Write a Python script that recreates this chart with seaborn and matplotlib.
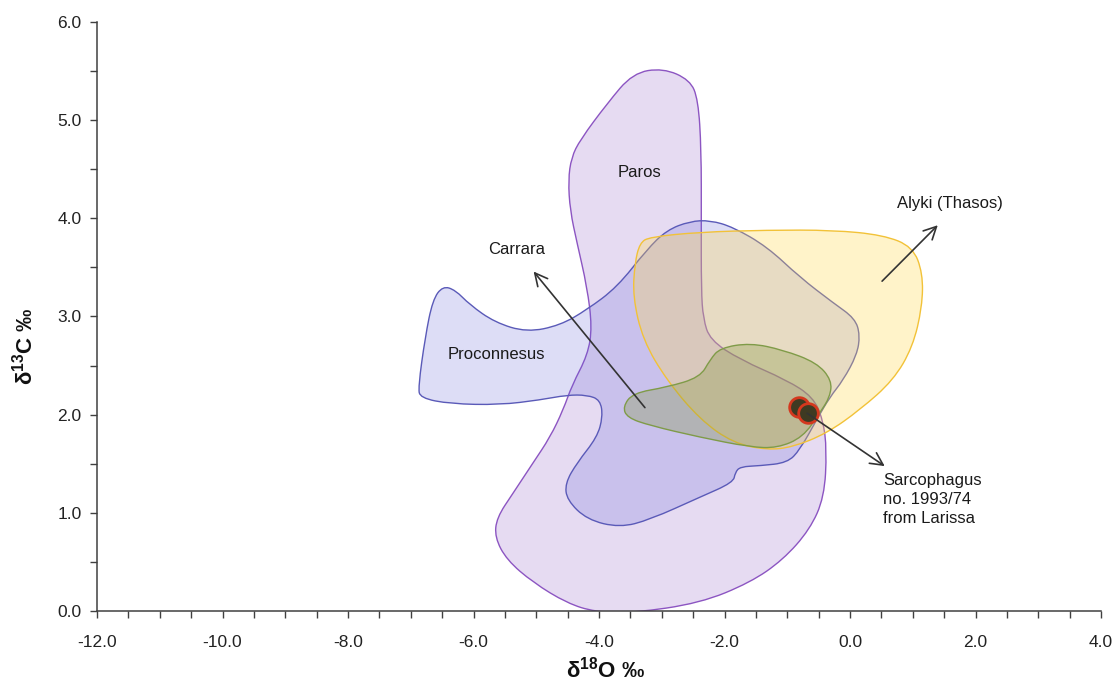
import numpy as np
import pandas as pd
import matplotlib
matplotlib.use("Agg")
import matplotlib.pyplot as plt
from matplotlib.path import Path
from matplotlib.patches import PathPatch
from matplotlib.ticker import MultipleLocator, FormatStrFormatter
import seaborn as sns

# ---------------- data (outline vertices in d18O / d13C units) ----------------
paros_x = [-2.98, -2.55, -2.42, -2.37, -2.37, -2.37, -2.34, -2.23, -1.75, -1.00,
           -0.59, -0.43, -0.37, -0.41, -0.64, -1.07, -1.59, -2.39, -3.46, -4.06,
           -4.51, -5.05, -5.47, -5.66, -5.63, -5.37, -5.05, -4.78, -4.57, -4.43,
           -4.18, -4.11, -4.19, -4.35, -4.46, -4.49, -4.44, -4.30, -3.87, -3.46]
paros_y = [5.53, 5.41, 5.21, 4.70, 3.98, 3.27, 2.98, 2.76, 2.56, 2.35,
           2.18, 1.95, 1.64, 1.16, 0.83, 0.52, 0.29, 0.08, -0.02, -0.01,
           0.08, 0.29, 0.52, 0.75, 0.95, 1.20, 1.51, 1.77, 2.05, 2.30,
           2.61, 2.89, 3.30, 3.75, 4.08, 4.39, 4.62, 4.80, 5.17, 5.48]

procon_x = [-6.88, -6.77, -6.65, -6.49, -6.29, -6.06, -5.66, -5.15, -4.62, -4.19,
            -3.71, -3.24, -2.92, -2.55, -2.23, -1.86, -1.32, -0.80, -0.27, 0.08,
            0.16, 0.11, -0.11, -0.32, -0.53, -0.80, -1.00, -1.43, -1.75, -1.83,
            -1.86, -2.39, -3.19, -3.67, -4.19, -4.51, -4.54, -4.35, -4.03, -3.94,
            -3.98, -4.19, -4.51, -4.94, -5.58, -6.37, -6.85]
procon_y = [2.28, 2.79, 3.17, 3.31, 3.27, 3.12, 2.94, 2.84, 2.91, 3.07,
            3.30, 3.68, 3.88, 3.97, 3.98, 3.91, 3.71, 3.40, 3.14, 2.98,
            2.81, 2.61, 2.35, 2.18, 1.95, 1.64, 1.51, 1.48, 1.47, 1.41,
            1.31, 1.16, 0.93, 0.85, 0.93, 1.13, 1.30, 1.51, 1.77, 1.98,
            2.15, 2.20, 2.20, 2.15, 2.10, 2.11, 2.17]

alyki_x = [-3.35, -3.19, -2.39, -1.32, -0.27, 0.53, 1.00, 1.16, 1.15, 1.00,
           0.69, 0.16, -0.37, -0.91, -1.32, -1.86, -2.39, -2.92, -3.30, -3.46, -3.43]
alyki_y = [3.75, 3.81, 3.86, 3.88, 3.88, 3.83, 3.71, 3.44, 3.10, 2.69,
           2.35, 2.05, 1.81, 1.67, 1.64, 1.71, 1.95, 2.35, 2.76, 3.20, 3.54]

carrara_x = [-3.62, -3.46, -2.92, -2.39, -2.23, -2.07, -1.59, -1.07, -0.53, -0.29,
             -0.32, -0.48, -0.75, -1.16, -1.59, -2.39, -3.19, -3.55]
carrara_y = [2.08, 2.22, 2.28, 2.38, 2.56, 2.68, 2.73, 2.66, 2.53, 2.35,
             2.18, 2.02, 1.77, 1.66, 1.67, 1.77, 1.89, 1.97]

sample_d18O = [-0.81, -0.67]
sample_d13C = [2.08, 2.02]

x_ticks_major = 2.0
y_ticks_major = 1.0

# ---------------- style ----------------
sns.set_theme(style="ticks")
plt.rcParams["font.family"] = ["Liberation Sans", "DejaVu Sans"]
plt.rcParams["axes.unicode_minus"] = False
plt.rcParams["mathtext.fontset"] = "custom"
plt.rcParams["mathtext.rm"] = "Liberation Sans"
plt.rcParams["mathtext.bf"] = "Liberation Sans:bold"
plt.rcParams["mathtext.it"] = "Liberation Sans:italic"

fig = plt.figure(figsize=(11.16, 6.84), dpi=100)
ax = fig.add_axes([97 / 1116, 73 / 684, 1004 / 1116, 589 / 684])


def smooth_patch(xs, ys, face, edge, alpha):
    pts = np.column_stack([xs, ys])
    mids = (pts + np.roll(pts, -1, axis=0)) / 2.0
    verts = [mids[-1]]
    codes = [Path.MOVETO]
    for i in range(len(pts)):
        verts += [pts[i], mids[i]]
        codes += [Path.CURVE3, Path.CURVE3]
    verts.append(mids[-1])
    codes.append(Path.CLOSEPOLY)
    path = Path(np.array(verts), codes)
    fc = matplotlib.colors.to_rgba(face, alpha)
    patch = PathPatch(path, facecolor=fc, edgecolor=edge, linewidth=1.0)
    ax.add_patch(patch)


smooth_patch(paros_x, paros_y, (0.62, 0.45, 0.80), "#8c55c2", 0.25)
smooth_patch(procon_x, procon_y, (0.40, 0.40, 0.85), "#5a5ab8", 0.22)
smooth_patch(alyki_x, alyki_y, (1.0, 0.85, 0.30), "#f2c238", 0.30)
smooth_patch(carrara_x, carrara_y, (0.50, 0.58, 0.22), "#7f9b48", 0.30)

df = pd.DataFrame({"d18O": sample_d18O, "d13C": sample_d13C})
sns.scatterplot(data=df, x="d18O", y="d13C", ax=ax, s=200, color="#3e3a22",
                edgecolor="#d4381e", linewidth=2.0, zorder=5)

arrow_kw = dict(arrowstyle="->,head_length=0.75,head_width=0.38", color="#333333", lw=1.2)
ax.annotate("", xy=(-5.07, 3.48), xytext=(-3.24, 2.05), arrowprops=arrow_kw, zorder=6)
ax.annotate("", xy=(1.43, 3.95), xytext=(0.48, 3.34), arrowprops=arrow_kw, zorder=6)
ax.annotate("", xy=(0.59, 1.46), xytext=(-0.72, 2.03), arrowprops=arrow_kw, zorder=6)

txt = dict(fontsize=12, color="#1a1a1a")
ax.text(-3.35, 4.47, "Paros", ha="center", va="center", **txt)
ax.text(-5.63, 2.61, "Proconnesus", ha="center", va="center", **txt)
ax.text(-5.32, 3.68, "Carrara", ha="center", va="center", **txt)
ax.text(1.59, 4.15, "Alyki (Thasos)", ha="center", va="center", **txt)
ax.text(0.53, 1.41, "Sarcophagus\nno. 1993/74\nfrom Larissa", ha="left", va="top",
        linespacing=1.35, **txt)

ax.set_xlim(-12, 4)
ax.set_ylim(0, 6)
ax.xaxis.set_major_locator(MultipleLocator(x_ticks_major))
ax.xaxis.set_minor_locator(MultipleLocator(0.5))
ax.yaxis.set_major_locator(MultipleLocator(y_ticks_major))
ax.yaxis.set_minor_locator(MultipleLocator(0.5))
ax.xaxis.set_major_formatter(FormatStrFormatter("%.1f"))
ax.yaxis.set_major_formatter(FormatStrFormatter("%.1f"))
ax.tick_params(which="both", direction="out", length=5, width=1.0, color="#404040")
ax.tick_params(axis="x", which="major", labelsize=12.5, pad=12, labelcolor="#222222")
ax.tick_params(axis="y", which="major", labelsize=12.5, pad=6, labelcolor="#222222")
for s in ["left", "bottom"]:
    ax.spines[s].set_color("#404040")
    ax.spines[s].set_linewidth(1.1)
sns.despine(ax=ax)
ax.grid(False)

ax.set_xlabel(r"δ$^{\mathbf{18}}$O ‰", fontsize=16, fontweight="bold", color="#111111")
ax.set_ylabel(r"δ$^{\mathbf{13}}$C ‰", fontsize=16, fontweight="bold", color="#111111")
ax.xaxis.label.set_va("center")
ax.yaxis.label.set_va("center")
ax.xaxis.set_label_coords(0.506, -0.100)
ax.yaxis.set_label_coords(-0.072, 0.45)

fig.savefig("out.png", dpi=100)
